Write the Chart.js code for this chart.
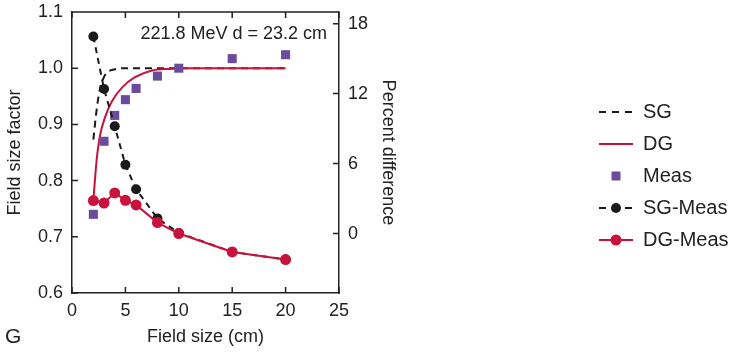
<!DOCTYPE html>
<html>
<head>
<meta charset="utf-8">
<script src="https://cdn.jsdelivr.net/npm/chart.js@4/dist/chart.umd.min.js"></script>
<style>
  html, body { margin: 0; padding: 0; background: #fff; }
  #wrap { width: 734px; height: 353px; position: relative; }
</style>
</head>
<body>
<div id="wrap"><canvas id="c" width="734" height="353"></canvas></div>
<script>
// Measured points (field size in cm)
const fieldSizes  = [2, 3, 4, 5, 6, 8, 10, 15, 20];
const measFactor  = [0.740, 0.870, 0.916, 0.944, 0.964, 0.986, 1.000, 1.017, 1.024];
const sgMeasDiff  = [16.9, 12.4, 9.2, 5.9, 3.8, 1.3, 0.05, -1.58, -2.23];
const dgMeasDiff  = [2.83, 2.62, 3.48, 2.85, 2.45, 0.94, 0.0, -1.58, -2.23];

// Model curves: single Gaussian (SG) and double Gaussian (DG)
const sgCurveX = [2.0, 2.3, 2.6, 2.9, 3.2, 3.6, 4.2, 5, 6, 8, 10, 15, 20];
const sgCurveY = [0.873, 0.925, 0.962, 0.980, 0.991, 0.996, 0.999, 1.0, 1.0, 1.0, 1.0, 1.0, 1.0];
const dgCurveX = [2.0, 2.3, 2.6, 3.1, 3.7, 4.7, 5.9, 7.5, 9.4, 10, 15, 20];
const dgCurveY = [0.765, 0.835, 0.878, 0.913, 0.940, 0.966, 0.984, 0.996, 0.999, 1.0, 1.0, 1.0];

// Axis ticks
const xTicks       = [0, 5, 10, 15, 20, 25];
const factorTicks  = [0.6, 0.7, 0.8, 0.9, 1.0, 1.1];
const percentTicks = [0, 6, 12, 18];

const beamLabel   = '221.8 MeV d = 23.2 cm';
const panelLetter = 'G';
const legendOrder = ['SG', 'DG', 'Meas', 'SG-Meas', 'DG-Meas'];

const RED = '#c8143c';
const PURPLE = '#6a4b9c';
const BLACK = '#1a1a1a';
const INK = '#222222';
const FONT = "'Liberation Sans', Arial, Helvetica, sans-serif";

const pts = (xs, ys) => xs.map((x, i) => ({ x: x, y: ys[i] }));

Chart.defaults.font.family = FONT;
Chart.defaults.color = INK;

// Fixed axis box sizes; tick labels may overhang the plot edges
const fitVertical = w => s => { s.width = w; s.paddingTop = 0; s.paddingBottom = 0; };
const fitHorizontal = h => s => { s.height = h; s.paddingLeft = 0; s.paddingRight = 0; };

// Inward tick marks, top frame line, annotation, panel letter and legend
const decorations = {
  id: 'decorations',
  afterDraw(chart) {
    const ctx = chart.ctx;
    const a = chart.chartArea;
    const sx = chart.scales.x, yl = chart.scales.yL, yr = chart.scales.yR;
    const TL = 6;
    ctx.save();
    ctx.strokeStyle = INK;
    ctx.lineWidth = 1.5;
    ctx.beginPath();
    ctx.moveTo(a.left, a.top); ctx.lineTo(a.right, a.top);
    xTicks.forEach(v => {
      const p = sx.getPixelForValue(v);
      ctx.moveTo(p, a.bottom); ctx.lineTo(p, a.bottom - TL);
      ctx.moveTo(p, a.top); ctx.lineTo(p, a.top + TL);
    });
    factorTicks.forEach(v => { const p = yl.getPixelForValue(v); ctx.moveTo(a.left, p); ctx.lineTo(a.left + TL, p); });
    percentTicks.forEach(v => { const p = yr.getPixelForValue(v); ctx.moveTo(a.right, p); ctx.lineTo(a.right - TL, p); });
    ctx.stroke();

    // beam annotation
    ctx.fillStyle = INK;
    ctx.font = '18px ' + FONT;
    ctx.textAlign = 'right';
    ctx.textBaseline = 'middle';
    ctx.fillText(beamLabel, a.right - 12, 34);

    // panel letter
    ctx.font = '21px ' + FONT;
    ctx.textAlign = 'left';
    ctx.fillText(panelLetter, 5, 337);

    // legend
    const x0 = 599, x1 = 633, xm = (x0 + x1) / 2, tx = 643;
    ctx.font = '20px ' + FONT;
    legendOrder.forEach((name, i) => {
      const ds = chart.data.datasets.find(d => d.label === name);
      const y = 112 + i * 32;
      if (ds.showLine !== false) {
        ctx.beginPath();
        ctx.setLineDash(ds.borderDash && ds.borderDash.length ? [7, 6] : []);
        ctx.strokeStyle = ds.borderColor;
        ctx.lineWidth = ds.borderWidth;
        ctx.moveTo(x0, y); ctx.lineTo(x1, y);
        ctx.stroke();
        ctx.setLineDash([]);
      }
      if (ds.pointRadius > 0) {
        ctx.fillStyle = ds.pointBackgroundColor;
        if (ds.pointStyle === 'rect') {
          const s = 9;
          ctx.fillRect(xm - s / 2, y - s / 2, s, s);
        } else {
          ctx.beginPath();
          ctx.arc(xm, y, ds.pointRadius, 0, Math.PI * 2);
          ctx.fill();
        }
      }
      ctx.fillStyle = INK;
      ctx.fillText(name, tx, y);
    });
    ctx.restore();
  }
};

new Chart(document.getElementById('c'), {
  type: 'line',
  data: {
    datasets: [
      {
        label: 'SG', yAxisID: 'yL', order: 4,
        data: pts(sgCurveX, sgCurveY),
        borderColor: BLACK, borderWidth: 2, borderDash: [7, 5],
        pointRadius: 0, cubicInterpolationMode: 'monotone'
      },
      {
        label: 'DG', yAxisID: 'yL', order: 3,
        data: pts(dgCurveX, dgCurveY),
        borderColor: RED, borderWidth: 2,
        pointRadius: 0, cubicInterpolationMode: 'monotone'
      },
      {
        label: 'Meas', yAxisID: 'yL', order: 2,
        data: pts(fieldSizes, measFactor),
        showLine: false, pointStyle: 'rect', pointRadius: 6.4,
        pointBackgroundColor: PURPLE, pointBorderWidth: 0, borderColor: PURPLE
      },
      {
        label: 'SG-Meas', yAxisID: 'yR', order: 1,
        data: pts(fieldSizes, sgMeasDiff),
        borderColor: BLACK, borderWidth: 2, borderDash: [6, 5],
        pointRadius: 5, pointBackgroundColor: BLACK, pointBorderWidth: 0, tension: 0
      },
      {
        label: 'DG-Meas', yAxisID: 'yR', order: 0,
        data: pts(fieldSizes, dgMeasDiff),
        borderColor: RED, borderWidth: 2,
        pointRadius: 5.5, pointBackgroundColor: RED, pointBorderWidth: 0, tension: 0
      }
    ]
  },
  options: {
    responsive: false,
    animation: false,
    devicePixelRatio: 1,
    layout: { padding: { left: 0, top: 12, right: 335, bottom: 0 } },
    plugins: { legend: { display: false }, tooltip: { enabled: false } },
    scales: {
      x: {
        type: 'linear', position: 'bottom', min: 0, max: 25,
        afterBuildTicks: s => { s.ticks = xTicks.map(v => ({ value: v })); },
        afterFit: fitHorizontal(60),
        grid: { display: false, drawTicks: false },
        border: { display: true, color: INK, width: 1.5 },
        ticks: { font: { size: 18 }, color: INK, padding: 7, maxRotation: 0, autoSkip: false },
        title: { display: true, text: 'Field size (cm)', font: { size: 18 }, color: INK, padding: { top: 0, bottom: 5 } }
      },
      yL: {
        type: 'linear', position: 'left', min: 0.6, max: 1.1,
        afterBuildTicks: s => { s.ticks = factorTicks.map(v => ({ value: v })); },
        afterFit: fitVertical(72),
        grid: { display: false, drawTicks: false },
        border: { display: true, color: INK, width: 1.5 },
        ticks: { font: { size: 18 }, color: INK, padding: 9, autoSkip: false, callback: v => v.toFixed(1) },
        title: { display: true, text: 'Field size factor', font: { size: 18 }, color: INK, padding: { top: 4, bottom: 0 } }
      },
      yR: {
        type: 'linear', position: 'right', min: -5.1, max: 19.0,
        afterBuildTicks: s => { s.ticks = percentTicks.map(v => ({ value: v })); },
        afterFit: fitVertical(60),
        grid: { display: false, drawTicks: false },
        border: { display: true, color: INK, width: 1.5 },
        ticks: { font: { size: 18 }, color: INK, padding: 9, autoSkip: false },
        title: { display: true, text: 'Percent difference', font: { size: 18 }, color: INK, padding: { top: 0, bottom: 0 } }
      }
    }
  },
  plugins: [decorations]
});
</script>
</body>
</html>
